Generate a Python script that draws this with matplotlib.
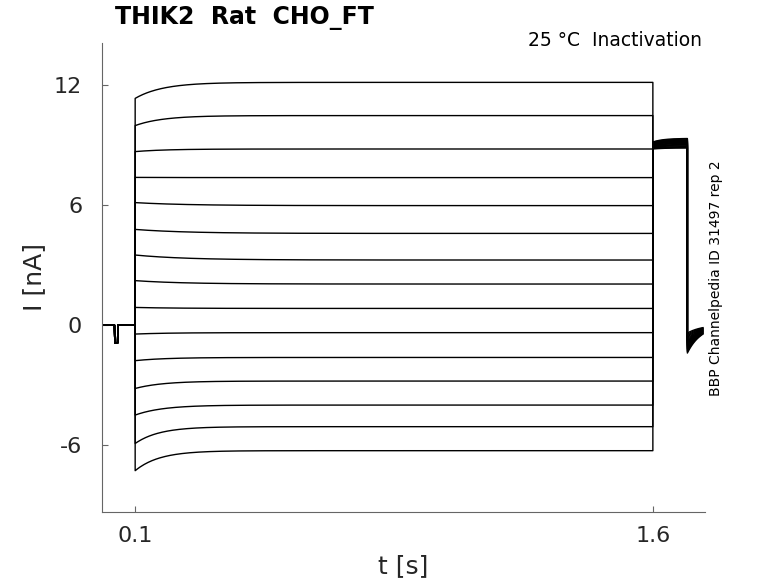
import numpy as np
import matplotlib
matplotlib.use("Agg")
from matplotlib import pyplot as plt

# protocol timing [s]
t_on = 0.1
t_off = 1.6
t_tail = 1.7
t_end = 1.745

# holding segment with the small test dip
hold_t = [0.0, 0.040, 0.041, 0.049, 0.050, t_on]
hold_i = [0.0, 0.0, -0.9, -0.9, 0.0, 0.0]

# step currents [nA]: value at step onset, value at step end, time constant
step_start = [11.33, 9.97, 8.67, 7.38, 6.12, 4.78, 3.50, 2.22, 0.88, -0.45,
              -1.78, -3.17, -4.50, -5.92, -7.28]
step_end = [12.13, 10.47, 8.80, 7.37, 5.97, 4.58, 3.25, 2.05, 0.83, -0.38,
            -1.62, -2.80, -4.00, -5.08, -6.28]
step_tau = [0.08, 0.08, 0.09, 0.12, 0.15, 0.15, 0.15, 0.14, 0.12, 0.10,
            0.09, 0.08, 0.08, 0.07, 0.07]

# tail pulse and return to holding
tail_start = [8.80, 8.83, 8.85, 8.88, 8.90, 8.92, 8.95, 8.98, 9.00, 9.03,
              9.05, 9.08, 9.10, 9.13, 9.15]
tail_end = [8.85, 8.88, 8.92, 8.96, 9.00, 9.03, 9.07, 9.10, 9.14, 9.17,
            9.20, 9.23, 9.26, 9.30, 9.33]
post_start = [-1.40, -1.33, -1.26, -1.19, -1.11, -1.04, -0.97, -0.90, -0.83,
              -0.76, -0.69, -0.61, -0.54, -0.47, -0.40]
post_inf = 0.0
post_tau = 0.04

fig = plt.figure(figsize=(7.78, 5.83), dpi=100)
ax = fig.add_axes([0.1307, 0.1223, 0.775, 0.804])

ts = np.linspace(t_on, t_off, 400)
tt = np.linspace(t_off, t_tail, 60)
tp = np.linspace(t_tail, t_end, 40)

for k in range(len(step_start)):
    i_step = step_end[k] + (step_start[k] - step_end[k]) * np.exp(-(ts - t_on) / step_tau[k])
    i_tail = tail_end[k] + (tail_start[k] - tail_end[k]) * np.exp(-(tt - t_off) / 0.03)
    i_post = post_inf + (post_start[k] - post_inf) * np.exp(-(tp - t_tail) / post_tau)
    t = np.concatenate([hold_t, ts, tt, tp])
    i = np.concatenate([hold_i, i_step, i_tail, i_post])
    ax.plot(t, i, color="black", lw=1.0)

ax.set_xlim(0.003, 1.75)
ax.set_ylim(-9.33, 14.1)
ax.set_xticks([0.1, 1.6])
ax.set_xticklabels(["0.1", "1.6"])
ax.set_yticks([-6, 0, 6, 12])
ax.set_yticklabels(["-6", "0", "6", "12"])

for s in ["top", "right"]:
    ax.spines[s].set_visible(False)
for s in ["left", "bottom"]:
    ax.spines[s].set_color("#666666")
ax.tick_params(direction="in", length=4, color="#666666", labelsize=16,
               labelcolor="#262626")
ax.tick_params(axis="y", pad=14)
ax.tick_params(axis="x", pad=10)

ax.set_xlabel("t [s]", fontsize=18, color="#262626", labelpad=6)
ax.set_ylabel("I [nA]", fontsize=18, color="#262626", labelpad=6)

fig.text(115 / 778, 1 - 18 / 583, "THIK2  Rat  CHO_FT", fontsize=17,
         fontweight="bold", va="center", ha="left")
fig.text(702 / 778, 1 - 41 / 583, "25 °C  Inactivation", fontsize=13.5,
         va="center", ha="right")
fig.text(716 / 778, 1 - 278 / 583, "BBP Channelpedia ID 31497 rep 2",
         fontsize=10, rotation=90, va="center", ha="center")

fig.savefig("out.png", dpi=100)
